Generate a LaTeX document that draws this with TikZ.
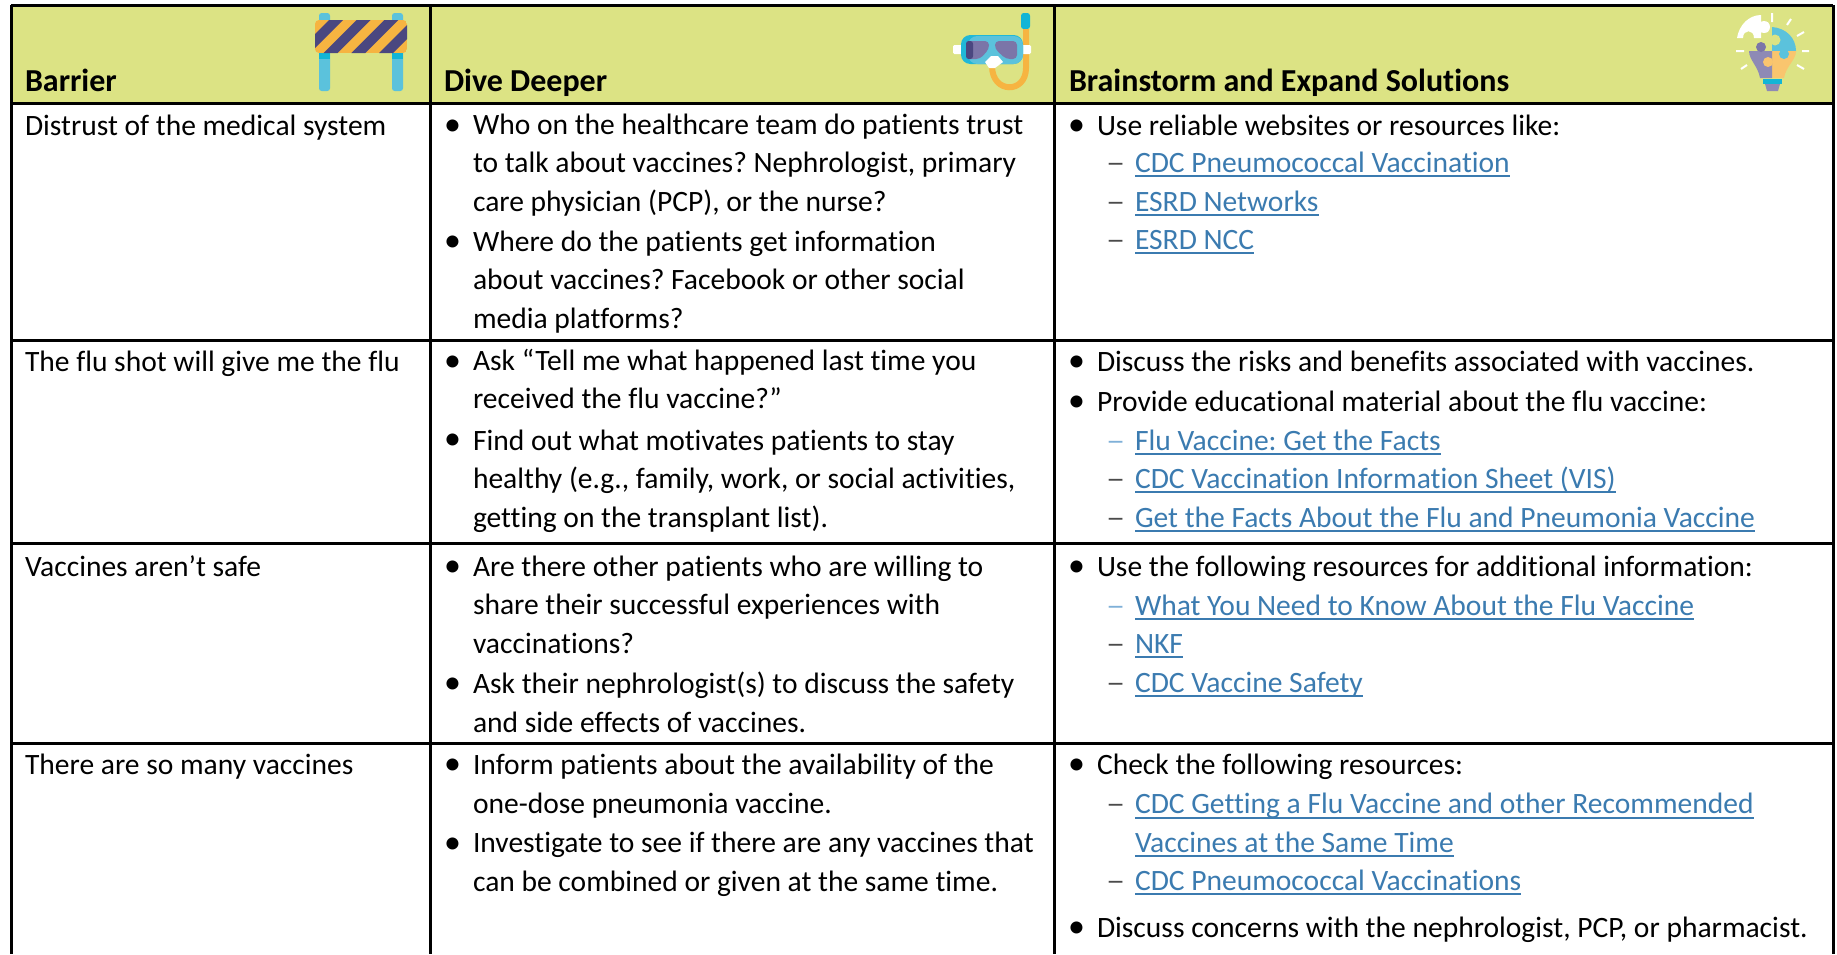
\documentclass[tikz,border=0pt]{standalone}
\usepackage{fontspec}
\setmainfont{Carlito}[Ligatures=NoCommon]
\definecolor{hdr}{HTML}{DCE384}
\definecolor{lnk}{HTML}{3B7BB0}
\definecolor{dsh}{HTML}{4A4A4A}
\definecolor{lnkdsh}{HTML}{7FB0D8}
\definecolor{cyanA}{HTML}{5BC2DC}
\definecolor{cyanB}{HTML}{12B5D6}
\definecolor{orgA}{HTML}{F6B441}
\definecolor{orgB}{HTML}{F9C56E}
\definecolor{navy}{HTML}{4A4780}
\definecolor{purp}{HTML}{7B75A8}
\definecolor{purpB}{HTML}{8E8AB5}
\newsavebox{\lkbox}
\newcommand{\lk}[1]{\sbox{\lkbox}{\textcolor{lnk}{#1}}\textcolor{lnk}{\rlap{\rule[-3.9pt]{\wd\lkbox}{1.4pt}}}\usebox{\lkbox}}
\newcommand{\dashmark}{\scalebox{1.3}[1]{–}}
\newcommand{\bulmark}{\scalebox{1.15}{•}}
\tikzset{x=0.75pt,y=-0.75pt,
  txt/.style={anchor=base west,inner sep=0pt,outer sep=0pt,align=left,font=\fontsize{22.15}{28.85}\selectfont},
  hd/.style={txt,font=\fontsize{24}{28.85}\selectfont\bfseries},
  rule/.style={line width=2.25pt,black},
  bul/.style={txt},
  dashm/.style={txt,text=dsh},
  dashl/.style={txt,text=lnkdsh}}
\begin{document}
\frenchspacing
\begin{tikzpicture}
\useasboundingbox (0,0) rectangle (1837,954);
\fill[white] (0,0) rectangle (1837,954);
\fill[hdr] (11,5) rectangle (1833,103);
% grid
\coordinate (tl) at (11,5); \coordinate (tr) at (1833,5);
\coordinate (h1l) at (11,103); \coordinate (h1r) at (1833,103);
\coordinate (r1l) at (11,340); \coordinate (r1r) at (1833,340);
\coordinate (r2l) at (11,543); \coordinate (r2r) at (1833,543);
\coordinate (r3l) at (11,743); \coordinate (r3r) at (1833,743);
\coordinate (bl) at (11,954); \coordinate (br) at (1833,954);
\coordinate (c2t) at (430,5); \coordinate (c2b) at (430,954);
\coordinate (c3t) at (1054,5); \coordinate (c3b) at (1054,954);
\draw[rule] (tl) -- (tr) (h1l) -- (h1r) (r1l) -- (r1r) (r2l) -- (r2r) (r3l) -- (r3r);
\draw[rule] (tl) -- (bl) (c2t) -- (c2b) (c3t) -- (c3b) (tr) -- (br);
% headers
\node[hd] (h1) at (25,91) {Barrier};
\node[hd] (h2) at (444,91) {Dive Deeper};
\node[hd] (h3) at (1069,91) {Brainstorm and Expand Solutions};
% column 1
\node[txt] (a1) at (25,135) {Distrust of the medical system};
\node[txt] (a2) at (25,371) {The flu shot will give me the flu};
\node[txt] (a3) at (25,576) {Vaccines aren’t safe};
\node[txt] (a4) at (25,774) {There are so many vaccines};
% column 2
\node[bul] (b1d) at (444,135) {\bulmark};
\node[txt] (b1) at (473,211) {Who on the healthcare team do patients trust\\to talk about vaccines? Nephrologist, primary\\care physician (PCP), or the nurse?};
\node[bul] (b2d) at (444,251) {\bulmark};
\node[txt] (b2) at (473,328) {Where do the patients get information\\about vaccines? Facebook or other social\\media platforms?};
\node[bul] (b3d) at (444,371) {\bulmark};
\node[txt] (b3) at (473,408.5) {Ask “Tell me what happened last time you\\received the flu vaccine?”};
\node[bul] (b4d) at (444,449.5) {\bulmark};
\node[txt] (b4) at (473,527) {Find out what motivates patients to stay\\healthy (e.g., family, work, or social activities,\\getting on the transplant list).};
\node[bul] (b5d) at (444,576) {\bulmark};
\node[txt] (b5) at (473,653) {Are there other patients who are willing to\\share their successful experiences with\\vaccinations?};
\node[bul] (b6d) at (444,693) {\bulmark};
\node[txt] (b6) at (473,732) {Ask their nephrologist(s) to discuss the safety\\and side effects of vaccines.};
\node[bul] (b7d) at (444,774) {\bulmark};
\node[txt] (b7) at (473,813) {Inform patients about the availability of the\\one-dose pneumonia vaccine.};
\node[bul] (b8d) at (444,853) {\bulmark};
\node[txt] (b8) at (473,891) {Investigate to see if there are any vaccines that\\can be combined or given at the same time.};
% column 3
\node[bul] (s1d) at (1068,135) {\bulmark};
\node[txt] (s1) at (1097,135) {Use reliable websites or resources like:};
\node[dashm] (s2d) at (1106,172) {\dashmark};
\node[txt] (s2) at (1135,172) {\lk{CDC Pneumococcal Vaccination}};
\node[dashm] (s3d) at (1106,211) {\dashmark};
\node[txt] (s3) at (1135,211) {\lk{ESRD Networks}};
\node[dashm] (s4d) at (1106,249) {\dashmark};
\node[txt] (s4) at (1135,249) {\lk{ESRD NCC}};
\node[bul] (s5d) at (1068,371) {\bulmark};
\node[txt] (s5) at (1097,371) {Discuss the risks and benefits associated with vaccines.};
\node[bul] (s6d) at (1068,411) {\bulmark};
\node[txt] (s6) at (1097,411) {Provide educational material about the flu vaccine:};
\node[dashl] (s7d) at (1106,450) {\dashmark};
\node[txt] (s7) at (1135,450) {\lk{Flu Vaccine: Get the Facts}};
\node[dashm] (s8d) at (1106,488) {\dashmark};
\node[txt] (s8) at (1135,488) {\lk{CDC Vaccination Information Sheet (VIS)}};
\node[dashm] (s9d) at (1106,527) {\dashmark};
\node[txt] (s9) at (1135,527) {\lk{Get the Facts About the Flu and Pneumonia Vaccine}};
\node[bul] (s10d) at (1068,576) {\bulmark};
\node[txt] (s10) at (1097,576) {Use the following resources for additional information:};
\node[dashl] (s11d) at (1106,615) {\dashmark};
\node[txt] (s11) at (1135,615) {\lk{What You Need to Know About the Flu Vaccine}};
\node[dashm] (s12d) at (1106,653) {\dashmark};
\node[txt] (s12) at (1135,653) {\lk{NKF}};
\node[dashm] (s13d) at (1106,692) {\dashmark};
\node[txt] (s13) at (1135,692) {\lk{CDC Vaccine Safety}};
\node[bul] (s14d) at (1068,774) {\bulmark};
\node[txt] (s14) at (1097,774) {Check the following resources:};
\node[dashm] (s15d) at (1106,813) {\dashmark};
\node[txt] (s15) at (1135,852) {\lk{CDC Getting a Flu Vaccine and other Recommended}\\\lk{Vaccines at the Same Time}};
\node[dashm] (s16d) at (1106,890) {\dashmark};
\node[txt] (s16) at (1135,890) {\lk{CDC Pneumococcal Vaccinations}};
\node[bul] (s17d) at (1068,937) {\bulmark};
\node[txt] (s17) at (1097,937) {Discuss concerns with the nephrologist, PCP, or pharmacist.};
% barrier icon
\fill[cyanA,rounded corners=2pt] (319,13) rectangle (330,91);
\fill[cyanA,rounded corners=2pt] (392,13) rectangle (403,91);
\fill[cyanB] (319,53) rectangle (330,59);
\fill[cyanB] (392,53) rectangle (403,59);
\begin{scope}
\clip[rounded corners=3pt] (315,20) rectangle (407,53);
\fill[orgA] (315,20) rectangle (407,53);
\foreach \s in {0,27.7,55.4,83.1}{\fill[navy] (329+\s,20) -- (343+\s,20) -- (310+\s,53) -- (296+\s,53) -- cycle;}
\end{scope}
% snorkel icon
\fill[cyanB,rounded corners=2pt] (1021,13) rectangle (1030,29);
\draw[orgA,line width=4.5pt] (1026,29) -- (1026,68) .. controls (1026,94) and (992,94) .. (992,66);
\fill[white,rounded corners=1pt] (953,45) rectangle (1031,54);
\fill[cyanB!80!cyanA,rounded corners=7pt] (961,35) rectangle (1023,64);
\fill[cyanA,rounded corners=7pt] (968,36) rectangle (1023,64);
\fill[white] (985,62) -- (991,56) -- (998,56) -- (1003,62) -- (995,68) -- (989,68) -- cycle;
\fill[purp,rounded corners=3pt] (966,41) -- (989,41) -- (989,49) -- (980,59) -- (966,59) -- cycle;
\fill[navy,rounded corners=2pt] (966,41) rectangle (973,59);
\fill[purp,rounded corners=3pt] (995,41) -- (1017,41) -- (1017,59) -- (1006,59) -- (995,49) -- cycle;
% bulb icon
\fill[white] (1737,38) .. controls (1739,25) and (1749,15) .. (1761,15) -- (1761,22) -- (1768,22) -- (1768,32) -- (1761,32) -- (1761,38) -- (1754,38) .. controls (1754,29) and (1743,29) .. (1743,38) -- cycle;
\fill[white] (1764,27) circle (6);
\fill[cyanA] (1772,27) .. controls (1786,28) and (1796,38) .. (1796,51) -- (1772,51) -- cycle;
\fill[hdr] (1775,40) circle (5.5);
\fill[orgB] (1772,51) -- (1796,51) .. controls (1796,60) and (1786,66) .. (1784,78) -- (1772,78) -- cycle;
\fill[purpB] (1749,51) -- (1772,51) -- (1772,78) -- (1760,78) .. controls (1758,66) and (1749,60) .. (1749,51) -- cycle;
\fill[purp] (1761,47) circle (5);
\fill[orgB] (1768,62) circle (5);
\fill[cyanA] (1784,54) circle (5);
\fill[cyanB] (1763,79) rectangle (1782,84);
\fill[purpB] (1765,84) -- (1780,84) -- (1778,91) -- (1767,91) -- cycle;
\draw[white,line width=1.5pt] (1772,13) -- (1772,22) (1787,25) -- (1791,19) (1797,36) -- (1804,32) (1802,51) -- (1809,51) (1797,65) -- (1804,69) (1747,65) -- (1741,69) (1736,51) -- (1744,51);
\end{tikzpicture}
\end{document}
